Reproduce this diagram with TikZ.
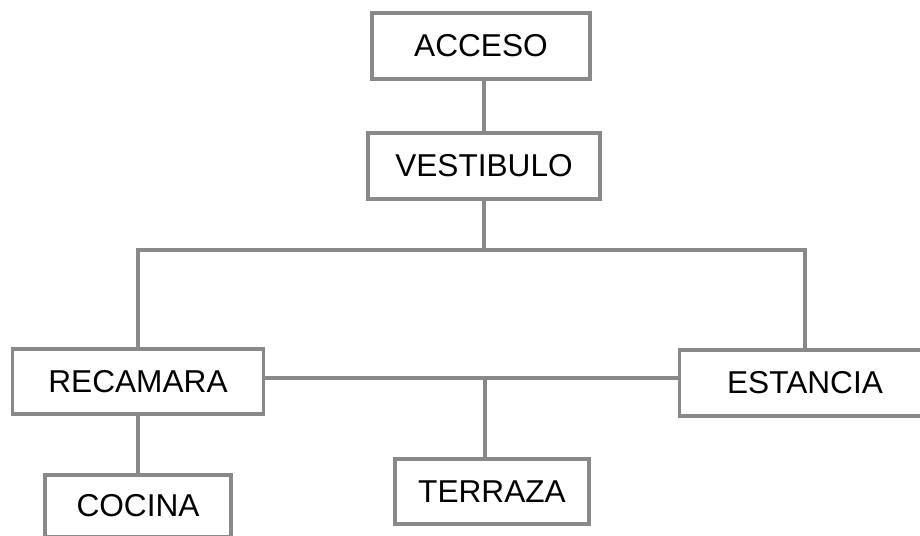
\documentclass[tikz,border=0pt]{standalone}
\usepackage{fontspec}
\setmainfont{Liberation Sans}
\definecolor{boxgray}{HTML}{898989}

\begin{document}
\begin{tikzpicture}[x=0.02cm, y=-0.02cm,
    room/.style={draw=boxgray, line width=2.2pt, fill=white, inner sep=0pt,
        font=\fontsize{18}{21}\selectfont},
    link/.style={draw=boxgray, line width=2.2pt}]
        \clip (0,0) rectangle (920,536);
        \node[room, minimum width=4.36cm, minimum height=1.32cm] (acceso) at (481, 46) {ACCESO};
        \node[room, minimum width=4.64cm, minimum height=1.32cm] (vestibulo) at (484, 166) {VESTIBULO};
        \node[room, minimum width=5.02cm, minimum height=1.30cm] (recamara) at (138, 381.5) {RECAMARA};
        \node[room, minimum width=5.02cm, minimum height=1.32cm] (estancia) at (805, 383) {ESTANCIA};
        \node[room, minimum width=3.88cm, minimum height=1.30cm] (terraza) at (492, 491.5) {TERRAZA};
        \node[room, minimum width=3.72cm, minimum height=1.24cm] (cocina) at (138, 506) {COCINA};
        \coordinate (bus) at (484, 250);
        \coordinate (mid) at (485, 378);
        \draw[link] (vestibulo.north) -- (vestibulo.north |- acceso.south);
        \draw[link] (vestibulo.south) -- (bus);
        \draw[link] (recamara.north) |- (bus) -| (estancia.north);
        \draw[link] (recamara.east |- mid) -- (estancia.west |- mid);
        \draw[link] (mid) -- (mid |- terraza.north);
        \draw[link] (recamara.south) -- (cocina.north);
\end{tikzpicture}
\end{document}
